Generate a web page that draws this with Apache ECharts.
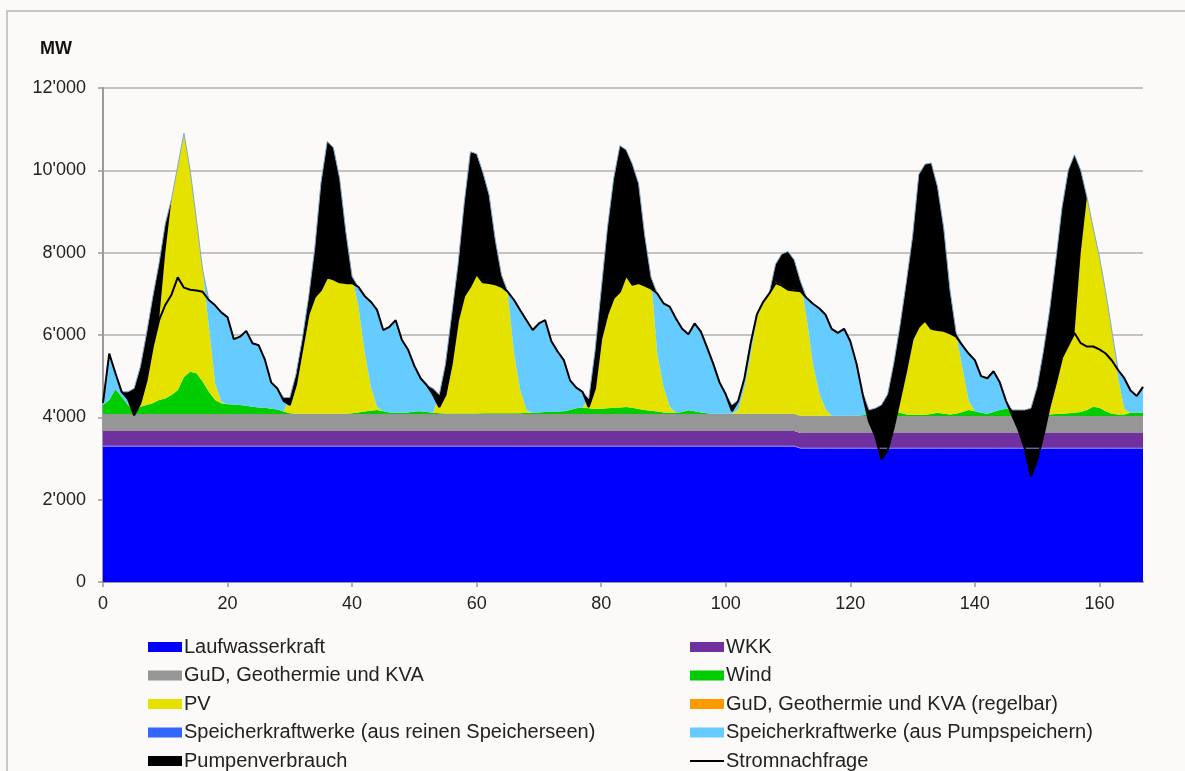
<!DOCTYPE html>
<html>
<head>
<meta charset="utf-8">
<script src="https://cdn.jsdelivr.net/npm/echarts@6/dist/echarts.min.js"></script>
<style>
html,body{margin:0;padding:0;background:#fbfaf8;}
#chart{width:1185px;height:771px;}
</style>
</head>
<body>
<div id="chart"></div>
<script>
const hours = [0,1,2,3,4,5,6,7,8,9,10,11,12,13,14,15,16,17,18,19,20,21,22,23,24,25,26,27,28,29,30,31,32,33,34,35,36,37,38,39,40,41,42,43,44,45,46,47,48,49,50,51,52,53,54,55,56,57,58,59,60,61,62,63,64,65,66,67,68,69,70,71,72,73,74,75,76,77,78,79,80,81,82,83,84,85,86,87,88,89,90,91,92,93,94,95,96,97,98,99,100,101,102,103,104,105,106,107,108,109,110,111,112,113,114,115,116,117,118,119,120,121,122,123,124,125,126,127,128,129,130,131,132,133,134,135,136,137,138,139,140,141,142,143,144,145,146,147,148,149,150,151,152,153,154,155,156,157,158,159,160,161,162,163,164,165,166,167];

const laufwasser = [
3300,3300,3300,3300,3300,3300,3300,3300,3300,3300,3300,3300,3300,3300,3300,3300,3300,3300,3300,3300,
3300,3300,3300,3300,3300,3300,3300,3300,3300,3300,3300,3300,3300,3300,3300,3300,3300,3300,3300,3300,
3300,3300,3300,3300,3300,3300,3300,3300,3300,3300,3300,3300,3300,3300,3300,3300,3300,3300,3300,3300,
3300,3300,3300,3300,3300,3300,3300,3300,3300,3300,3300,3300,3300,3300,3300,3300,3300,3300,3300,3300,
3300,3300,3300,3300,3300,3300,3300,3300,3300,3300,3300,3300,3300,3300,3300,3300,3300,3300,3300,3300,
3300,3300,3300,3300,3300,3300,3300,3300,3300,3300,3300,3300,3250,3250,3250,3250,3250,3250,3250,3250,
3250,3250,3250,3250,3250,3250,3250,3250,3250,3250,3250,3250,3250,3250,3250,3250,3250,3250,3250,3250,
3250,3250,3250,3250,3250,3250,3250,3250,3250,3250,3250,3250,3250,3250,3250,3250,3250,3250,3250,3250,
3250,3250,3250,3250,3250,3250,3250,3250];

const wkk = [
370,370,370,370,370,370,370,370,370,370,370,370,370,370,370,370,370,370,370,370,
370,370,370,370,370,370,370,370,370,370,370,370,370,370,370,370,370,370,370,370,
370,370,370,370,370,370,370,370,370,370,370,370,370,370,370,370,370,370,370,370,
370,370,370,370,370,370,370,370,370,370,370,370,370,370,370,370,370,370,370,370,
370,370,370,370,370,370,370,370,370,370,370,370,370,370,370,370,370,370,370,370,
370,370,370,370,370,370,370,370,370,370,370,370,370,370,370,370,370,370,370,370,
370,370,370,370,370,370,370,370,370,370,370,370,370,370,370,370,370,370,370,370,
370,370,370,370,370,370,370,370,370,370,370,370,370,370,370,370,370,370,370,370,
370,370,370,370,370,370,370,370];

const gud = [
410,410,410,410,410,410,410,410,410,410,410,410,410,410,410,410,410,410,410,410,
410,410,410,410,410,410,410,410,410,410,410,410,410,410,410,410,410,410,410,410,
410,410,410,410,410,410,410,410,410,410,410,410,410,410,410,410,410,410,410,410,
410,410,410,410,410,410,410,410,410,410,410,410,410,410,410,410,410,410,410,410,
410,410,410,410,410,410,410,410,410,410,410,410,410,410,410,410,410,410,410,410,
410,410,410,410,410,410,410,410,410,410,410,410,410,410,410,410,410,410,410,410,
410,410,410,410,410,410,410,410,410,410,410,410,410,410,410,410,410,410,410,410,
410,410,410,410,410,410,410,410,410,410,410,410,410,410,410,410,410,410,410,410,
410,410,410,410,410,410,410,410];

const wind = [
220,340,600,420,220,80,180,220,260,340,
380,460,580,900,1030,990,790,540,340,260,
240,230,220,200,180,160,150,130,110,60,
20,10,10,5,5,5,5,5,5,10,
20,40,60,80,100,70,40,30,30,40,
60,70,50,30,20,15,15,15,15,15,
15,20,20,20,20,20,20,20,30,30,
40,50,60,60,70,100,140,160,140,120,
130,140,150,160,170,150,120,100,80,60,
40,30,30,50,90,70,40,20,10,10,
10,10,10,10,10,10,10,10,10,10,
10,10,10,10,10,10,10,10,10,10,
10,10,20,40,60,80,100,130,80,40,
30,30,30,50,80,60,40,60,100,150,
120,80,60,100,150,180,150,120,100,80,
60,40,40,50,60,70,80,100,150,230,
200,120,60,40,40,80,90,80];

const pv = [
0,0,0,0,0,0,970,1740,2590,3320,
4240,4760,5440,5920,4890,3730,2710,1580,410,40,
0,0,0,0,0,0,0,0,0,0,
380,960,1810,2815,4015,5615,6615,6465,5715,4410,
3320,2580,1460,590,70,0,0,0,0,0,
0,0,0,0,450,1205,2405,3605,5105,6355,
6305,5850,5300,4200,3350,2900,1450,560,70,0,
0,0,0,0,0,0,0,0,230,1400,
2890,4380,5570,6360,6250,5920,5480,4220,3240,1410,
620,150,0,0,0,0,0,0,0,0,
0,0,100,630,1430,2330,2730,2940,3630,3880,
3940,3730,3260,2360,1260,560,160,0,0,0,
0,0,0,0,0,0,430,1170,2140,3220,
4330,5840,6090,6100,5490,4510,3030,1910,1070,220,
0,0,0,0,0,0,0,0,0,110,
650,1530,2530,3740,5010,5900,6270,5870,5170,4340,
3670,2900,2010,880,130,0,0,0];

const gudRegelbar = [
0,0,0,0,0,0,0,0,0,0,0,0,0,0,0,0,0,0,0,0,0,0,0,0,0,0,0,0,0,0,0,0,0,0,0,0,0,0,0,0,
0,0,0,0,0,0,0,0,0,0,0,0,0,0,0,0,0,0,0,0,0,0,0,0,0,0,0,0,0,0,0,0,0,0,0,0,0,0,0,0,
0,0,0,0,0,0,0,0,0,0,0,0,0,0,0,0,0,0,0,0,0,0,0,0,0,0,0,0,0,0,0,0,0,0,0,0,0,0,0,0,
0,0,0,0,0,0,0,0,0,0,0,0,0,0,0,0,0,0,0,0,0,0,0,0,0,0,0,0,0,0,0,0,0,0,0,0,0,0,0,0,
0,0,0,0,0,0,0,0];

const speicherRein = [
0,0,0,0,0,0,0,0,0,0,0,0,0,0,0,0,0,0,0,0,0,0,0,0,0,0,0,0,0,0,0,0,0,0,0,0,0,0,0,0,
0,0,0,0,0,0,0,0,0,0,0,0,0,0,0,0,0,0,0,0,0,0,0,0,0,0,0,0,0,0,0,0,0,0,0,0,0,0,0,0,
0,0,0,0,0,0,0,0,0,0,0,0,0,0,0,0,0,0,0,0,0,0,0,0,0,0,0,0,0,0,0,0,0,0,0,0,0,0,0,0,
0,0,0,0,0,0,0,0,0,0,0,0,0,0,0,0,0,0,0,0,0,0,0,0,0,0,0,0,0,0,0,0,0,0,0,0,0,0,0,0,
0,0,0,0,0,0,0,0];

const speicherPump = [
50,1130,390,120,320,540,0,0,0,0,
0,0,0,0,0,0,0,650,1890,2170,
2110,1590,1660,1820,1540,1510,1170,640,510,340,
0,0,0,0,0,0,0,0,0,0,
0,470,1350,2060,2360,1970,2080,2250,1770,1520,
1110,800,650,590,0,0,0,0,0,0,
0,0,0,0,0,50,1300,1940,2180,2010,
2160,2230,1710,1460,1240,720,500,380,0,0,
0,0,0,0,0,0,0,0,0,1460,
2030,2430,2290,2020,1850,2130,1960,1600,1210,760,
470,210,230,250,300,100,0,0,0,0,
0,0,0,500,1460,2050,2300,2110,2010,2110,
1810,1260,550,110,130,190,0,0,0,0,
0,0,0,0,0,0,0,50,550,1150,
1240,890,860,990,670,190,0,30,50,0,
0,0,0,0,0,0,0,0,0,0,
0,0,0,200,750,540,400,630];

const pumpen = [
0,0,0,0,170,650,890,1140,1210,1380,
700,0,0,0,0,0,0,0,0,0,
0,0,0,0,0,0,0,0,0,80,
180,250,250,400,1180,2610,3300,3200,2520,1240,
160,0,0,0,0,0,0,0,0,0,
0,0,0,150,300,750,1200,1350,2250,3270,
2920,2670,2140,1070,280,0,0,0,0,0,
0,0,0,0,0,0,0,0,200,900,
1200,2100,2900,3550,3050,2930,2420,1200,270,0,
0,0,0,0,0,0,0,0,0,0,
0,150,0,0,0,0,0,0,440,750,
910,720,240,0,0,0,0,0,0,0,
0,0,50,280,670,1320,1360,1560,1800,2140,
2490,3700,3800,4030,3480,2500,1060,90,0,0,
0,0,0,0,0,0,130,480,930,1660,
1780,2050,2350,2990,3650,4250,4330,2000,0,0,
0,0,0,0,0,0,0,0];

const nachfrage = [
4350,5550,5070,4620,4450,4050,4340,4900,5720,6360,
6730,6980,7400,7150,7100,7080,7050,6850,6720,6550,
6430,5900,5960,6100,5800,5750,5400,4850,4700,4400,
4300,4800,5650,6500,6920,7090,7400,7350,7280,7260,
7260,7170,6950,6810,6610,6120,6200,6360,5880,5640,
5250,4950,4780,4550,4250,4550,5300,6350,6950,7180,
7480,7280,7260,7230,7170,7050,6850,6600,6360,6120,
6280,6360,5850,5600,5390,4900,4720,4620,4250,4700,
5900,6500,6900,7050,7450,7220,7260,7200,7130,7010,
6770,6690,6400,6150,6020,6280,6080,5700,5300,4850,
4560,4150,4400,4950,5800,6500,6800,7010,7260,7200,
7100,7080,7060,6900,6760,6650,6500,6150,6050,6150,
5850,5300,4550,3900,3550,2980,3200,3770,4450,5150,
5900,6200,6350,6150,6120,6100,6040,5960,5750,5550,
5390,5000,4950,5120,4850,4400,4050,3700,3250,2560,
2960,3550,4250,4830,5450,5750,6050,5800,5720,5720,
5650,5550,5380,5150,4950,4650,4520,4740];

const xTicks = [0,20,40,60,80,100,120,140,160];
const yTicks = [0,2000,4000,6000,8000,10000,12000];
const yTickLabels = ["0","2'000","4'000","6'000","8'000","10'000","12'000"];

const legendCol1 = ['Laufwasserkraft','GuD, Geothermie und KVA','PV','Speicherkraftwerke (aus reinen Speicherseen)','Pumpenverbrauch'];
const legendCol2 = ['WKK','Wind','GuD, Geothermie und KVA (regelbar)','Speicherkraftwerke (aus Pumpspeichern)','Stromnachfrage'];

const FONT = '"Liberation Sans", Arial, sans-serif';

// bottom of the pumping band = total generation minus pump consumption
const production = [laufwasser, wkk, gud, wind, pv, gudRegelbar, speicherRein, speicherPump];
const pumpBase = hours.map((h,i)=>{
  let s = 0; production.forEach(a=>{ s += a[i]; });
  return s - pumpen[i];
});

function areaSeries(name, arr, color, line){
  return {
    name, type:'line', stack:'gen', data: arr, symbol:'none', showSymbol:false,
    itemStyle:{color}, areaStyle:{color, opacity:1},
    lineStyle: line || {width:0, color},
    emphasis:{disabled:true}, silent:true
  };
}

const series = [
  areaSeries('Laufwasserkraft', laufwasser, '#0000ff', {width:1, color:'#9a8cff'}),
  areaSeries('WKK', wkk, '#7030a0'),
  areaSeries('GuD, Geothermie und KVA', gud, '#969696'),
  areaSeries('Wind', wind, '#00cc00'),
  areaSeries('PV', pv, '#e6e200'),
  areaSeries('GuD, Geothermie und KVA (regelbar)', gudRegelbar, '#ff9900'),
  areaSeries('Speicherkraftwerke (aus reinen Speicherseen)', speicherRein, '#3366ff'),
  areaSeries('Speicherkraftwerke (aus Pumpspeichern)', speicherPump, '#66ccff', {width:1, color:'#84a9cc'}),
  {
    name:'pumpBase', type:'line', stack:'band', data: pumpBase, symbol:'none',
    lineStyle:{width:0, opacity:0}, itemStyle:{color:'transparent'}, silent:true, emphasis:{disabled:true}
  },
  {
    name:'Pumpenverbrauch', type:'line', stack:'band', data: pumpen, symbol:'none',
    itemStyle:{color:'#000000'}, areaStyle:{color:'#000000', opacity:1},
    lineStyle:{width:0, color:'#000000'}, silent:true, emphasis:{disabled:true}
  },
  {
    name:'Stromnachfrage', type:'line', data: nachfrage, symbol:'none', showSymbol:false,
    itemStyle:{color:'#000000'}, lineStyle:{width:2, color:'#000000'}, silent:true, emphasis:{disabled:true}, z:5
  }
];

const LINE_ICON = 'path://M0,0L0.01,0L0.01,0.01Z M0,4L34,4L34,6L0,6Z M0,10L0.01,10L0.01,9.99Z';

function legendData(names){
  return names.map(n => n === 'Stromnachfrage' ? {name:n, icon:LINE_ICON} : {name:n, icon:'rect'});
}

const legendBase = {
  orient:'vertical', top:637, itemWidth:34, itemHeight:10, itemGap:8.5, padding:0,
  selectedMode:false,
  textStyle:{fontSize:20, color:'#222', fontFamily:FONT, lineHeight:20, padding:[0,0,0,-3]}
};

const isTick = (idx) => xTicks.indexOf(hours[idx]) >= 0;

const option = {
  backgroundColor:'#fbfaf8',
  animation:false,
  textStyle:{fontFamily:FONT},
  grid:{left:103, right:42, top:88, bottom:189, containLabel:false},
  xAxis:{
    type:'category', data:hours, boundaryGap:false,
    axisLine:{show:true, onZero:false, lineStyle:{color:'#9a9a9a', width:2}},
    axisTick:{show:true, length:5, interval:(i)=>isTick(i), lineStyle:{color:'#9a9a9a', width:1.5}},
    axisLabel:{interval:(i)=>isTick(i), fontSize:18, color:'#222', margin:13, fontFamily:FONT},
    splitLine:{show:false}
  },
  yAxis:{
    type:'value', min:0, max:12000, interval:2000,
    axisLine:{show:true, lineStyle:{color:'#9a9a9a', width:2}},
    axisTick:{show:true, length:5, lineStyle:{color:'#9a9a9a', width:1.5}},
    axisLabel:{fontSize:18, color:'#222', margin:17, fontFamily:FONT,
      formatter:(v)=>{ const i = yTicks.indexOf(v); return i>=0 ? yTickLabels[i] : ''; }},
    splitLine:{show:true, lineStyle:{color:'#c3c3c3', width:2}}
  },
  legend:[
    Object.assign({}, legendBase, {left:148, data:legendData(legendCol1)}),
    Object.assign({}, legendBase, {left:690, data:legendData(legendCol2)})
  ],
  graphic:[
    {type:'rect', z:-1, silent:true, shape:{x:7, y:11, width:1400, height:1000},
      style:{fill:null, stroke:'#c8c8c8', lineWidth:2}},
    {type:'text', x:40, y:40, silent:true,
      style:{text:'MW', font:'bold 18px "Liberation Sans", Arial, sans-serif', fill:'#111'}}
  ],
  series
};

const chart = echarts.init(document.getElementById('chart'), null, {renderer:'canvas'});
chart.setOption(option);
</script>
</body>
</html>
